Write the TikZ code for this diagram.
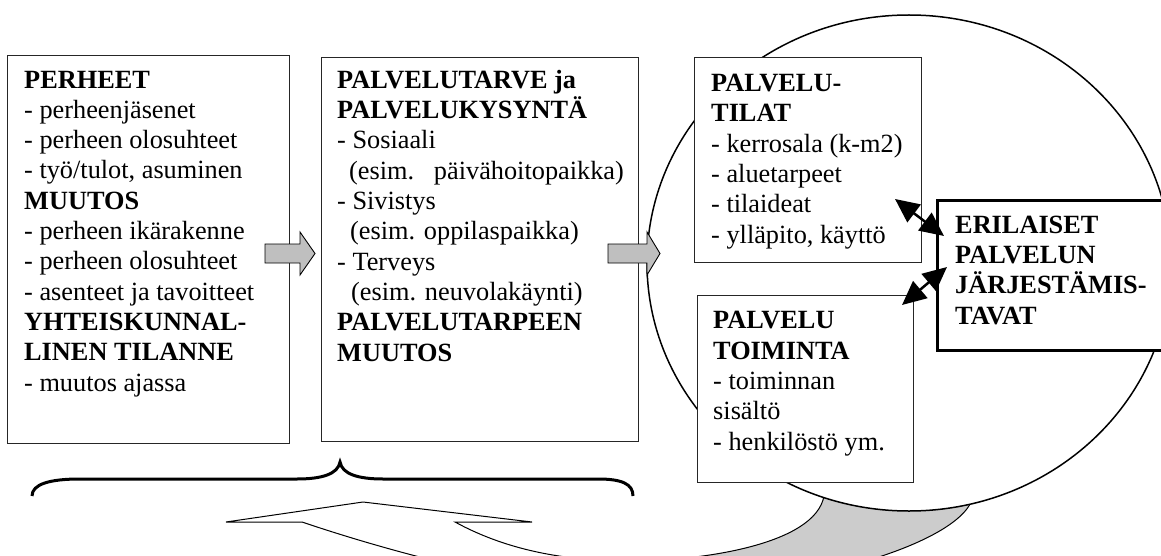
\documentclass[tikz,border=0pt]{standalone}
\usepackage{fontspec}
\setmainfont{Liberation Serif}
\usetikzlibrary{arrows.meta}
\newcommand\uarrowpath{(302,522) -- (226,522) -- (363,502) -- (532,522) -- (455,522) .. controls (510,552) and (570,561) .. (630,561) .. controls (700,561) and (815,545) .. (824,496) -- (972,500) .. controls (955,545) and (800,592) .. (640,592) .. controls (520,590) and (370,545) .. (302,522) -- cycle}
\begin{document}
\begin{tikzpicture}[x=1pt,y=-1pt,
  box/.style={draw=black!85, line width=1.1pt, fill=white, inner sep=0pt, anchor=north west},
  thickbox/.style={draw=black, line width=3pt, fill=white, inner sep=0pt, anchor=north west},
  txt/.style={font=\fontsize{26.3}{30.3}\selectfont, align=left, inner sep=0pt, anchor=base west},
  blockarrow/.style={draw=black, line width=0.9pt, fill=black!25, line join=miter},
  dbl/.style={line width=2.5pt, {Triangle[length=24pt,width=22pt]}-{Triangle[length=24pt,width=22pt]}}
]
\useasboundingbox (0,0) rectangle (1161,556);
\clip (0,0) rectangle (1161,556);
\fill[white] (0,0) rectangle (1161,556);

% curved return arrow
\fill[white] \uarrowpath;
\begin{scope}
  \clip (640,0) rectangle (1161,556);
  \fill[black!20] \uarrowpath;
\end{scope}
\draw[line width=1pt, line join=miter] \uarrowpath;

% circle
\draw[line width=1.5pt, fill=white] (909,263) ellipse [x radius=262pt, y radius=248pt];

% boxes
\node[box, minimum width=282pt, minimum height=388pt] (b1) at (7,55) {};
\node[box, minimum width=317pt, minimum height=384pt] (b2) at (321,57) {};
\node[box, minimum width=227pt, minimum height=205pt] (b3) at (694,57) {};
\node[thickbox, minimum width=260pt, minimum height=150pt] (b4) at (936,199) {};
\node[box, minimum width=216pt, minimum height=187pt] (b5) at (697,295) {};

% texts (anchored at the baseline of their last line)
\node[txt] (t1) at (24,391) {\textbf{PERHEET}\\- perheenjäsenet\\- perheen olosuhteet\\- työ/tulot, asuminen\\\textbf{MUUTOS}\\- perheen ikärakenne\\- perheen olosuhteet\\- asenteet ja tavoitteet\\\textbf{YHTEISKUNNAL-}\\\textbf{LINEN TILANNE}\\- muutos ajassa};
\node[txt] (t2) at (337,361) {\textbf{PALVELUTARVE ja}\\\textbf{PALVELUKYSYNTÄ}\\- Sosiaali\\\hspace*{12pt}(esim.\hspace{11pt} päivähoitopaikka)\\- Sivistys\\\hspace*{13pt}(esim. oppilaspaikka)\\- Terveys\\\hspace*{14pt}(esim. neuvolakäynti)\\\textbf{PALVELUTARPEEN}\\\textbf{MUUTOS}};
\node[txt] (t3) at (711,243) {\textbf{PALVELU-}\\\textbf{TILAT}\\- kerrosala (k-m2)\\- aluetarpeet\\- tilaideat\\- ylläpito, käyttö};
\node[txt] (t4) at (955,324) {\textbf{ERILAISET}\\\textbf{PALVELUN}\\\textbf{JÄRJESTÄMIS-}\\\textbf{TAVAT}};
\node[txt] (t5) at (713,450) {\textbf{PALVELU}\\\textbf{TOIMINTA}\\- toiminnan\\sisältö\\- henkilöstö ym.};

% block arrows
\draw[blockarrow] (265,244) -- (300,244) -- (300,232) -- (315,253.5) -- (300,275) -- (300,263) -- (265,263) -- cycle;
\draw[blockarrow] (608,244) -- (647,244) -- (647,232) -- (660,253.5) -- (647,275) -- (647,263) -- (608,263) -- cycle;

% double arrows
\coordinate (d1a) at (895,199);
\coordinate (d1b) at (944,236);
\coordinate (d2a) at (902,305);
\coordinate (d2b) at (947,267);
\draw[dbl] (d1a) -- (d1b);
\draw[dbl] (d2a) -- (d2b);

% brace
\draw[line width=3pt] (32,496) .. controls (32,484) and (50,479) .. (80,479) -- (297,479) .. controls (322,479) and (338,474) .. (340,462) .. controls (342,474) and (358,479) .. (383,479) -- (598,479) .. controls (622,479) and (633,484) .. (633,496);
\end{tikzpicture}
\end{document}
